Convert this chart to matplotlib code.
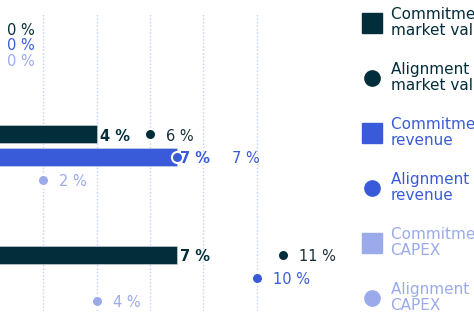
import matplotlib
matplotlib.use("Agg")
import matplotlib.pyplot as plt
from matplotlib.lines import Line2D

plt.rcParams['font.family'] = ['DejaVu Sans']

# Three groups, each with commitment (bar) and alignment (dot) shares in %
commit_mv = [0, 4, 7]
align_mv = [0, 6, 11]
commit_rev = [0, 7, None]
align_rev = [0, 7, 10]
commit_capex = [0, None, None]
align_capex = [0, 2, 4]

series_labels = [
    ("Commitment in % of\nmarket value", "Alignment in % of\nmarket value"),
    ("Commitment in % of\nrevenue", "Alignment in % of\nrevenue"),
    ("Commitment in % of\nCAPEX", "Alignment in % of\nCAPEX"),
]
grid_ticks = [2, 4, 6, 8, 10]

colors = ["#022d3b", "#3a5bd9", "#9aaaea"]
bars = [commit_mv, commit_rev, commit_capex]
dots = [align_mv, align_rev, align_capex]

W, H = 474, 324
fig = plt.figure(figsize=(W / 100, H / 100), dpi=100)
ax = fig.add_axes([0, 1 - 311 / H, 340 / W, (311 - 14) / H])

row_step = 0.19
bar_h = 0.15
ax.set_xlim(0.375, 0.375 + 340 / 26.667)
ax.set_ylim(2.273, -0.182)
for s in ax.spines.values():
    s.set_visible(False)
ax.set_xticks([])
ax.set_yticks([])
for t in grid_ticks:
    ax.axvline(t, color="#c6cdf6", lw=1, ls=(0, (1, 1.5)), zorder=0)

fs = 10.5
dy = 2.0 / 121
handles = []
for k in range(3):
    col = colors[k]
    r = k - 1
    ys = [g + r * row_step for g in range(3)]
    for g in range(3):
        bv, dv = bars[k][g], dots[k][g]
        y = ys[g]
        all_zero = all((bars[j][g] or 0) == 0 and (dots[j][g] or 0) == 0 for j in range(3))
        if bv is not None:
            ax.barh(y, bv, height=bar_h, left=0, color=col, edgecolor="#d0d8e0",
                    linewidth=0.4, zorder=2)
        if dv is not None:
            ax.plot(dv, y, "o", ms=8, color=col, mec="white", mew=1.5, zorder=3,
                    clip_on=True)
        if all_zero:
            ly = g + 1 * row_step - (2 - k) * 0.128
            ax.text(0.64, ly + dy, f"{dv} %", color=col, fontsize=fs, ha="left",
                    va="center", clip_on=False)
            continue
        if bv is not None:
            ax.text(bv + 0.12, y + dy, f"{bv} %", color=col, fontsize=fs,
                    fontweight="bold", ha="left", va="center")
        if dv is not None:
            off = 0.6
            if bv is not None and abs(dv - bv) < 1:
                off = 2.07
            ax.text(dv + off, y + dy, f"{dv} %", color=col if k else "#1c2f3a",
                    fontsize=fs, ha="left", va="center")
    handles.append(Line2D([], [], ls="none", marker="s", ms=15, color=col,
                          label=series_labels[k][0]))
    handles.append(Line2D([], [], ls="none", marker="o", ms=11, color=col,
                          label=series_labels[k][1]))

leg = fig.legend(handles=handles, loc="upper left", bbox_to_anchor=(357 / W, 1 - 1 / H),
                 frameon=False, fontsize=11, labelspacing=1.55, handlelength=1.1,
                 handletextpad=0.7, borderaxespad=0)
for txt, h in zip(leg.get_texts(), handles):
    txt.set_color(h.get_color())
    txt.set_linespacing(1.1)

fig.savefig("out.png", dpi=100)
